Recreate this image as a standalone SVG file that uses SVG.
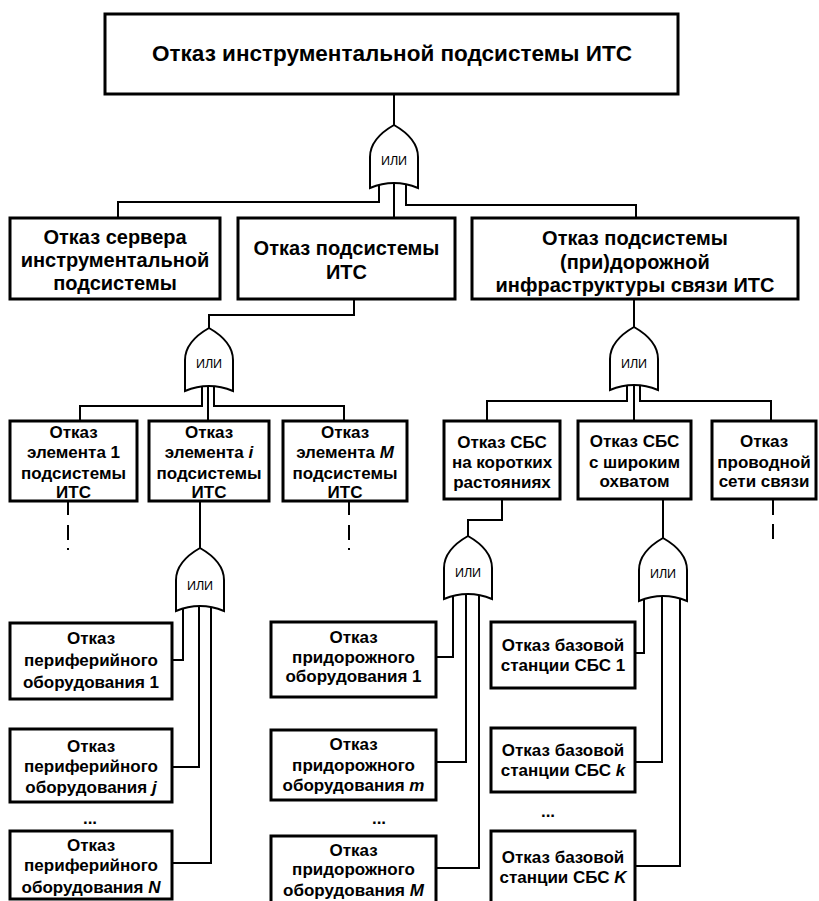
<svg xmlns="http://www.w3.org/2000/svg" width="819" height="901" viewBox="0 0 819 901">
<style>
.box{fill:#fff;stroke:#000;stroke-width:3}
.ln{fill:none;stroke:#000;stroke-width:2}
.dash{fill:none;stroke:#000;stroke-width:2;stroke-dasharray:13 10 15 8 2 100}
.gate{fill:#fff;stroke:#000;stroke-width:2}
text{font-family:"Liberation Sans",Arial,sans-serif;font-weight:bold;text-anchor:middle;fill:#000}
.t22{font-size:22.5px}
.t19{font-size:20px}
.t17{font-size:17px}
.g{font-size:12.5px;font-weight:normal}
.it{font-style:italic}
</style>
<defs>
<path id="orgate" d="M0,0 C-14,8 -24,18 -24,32 L-24,63 Q0,53 24,63 L24,32 C24,18 14,8 0,0 Z"/>
</defs>
<rect width="819" height="901" fill="#fff"/>
<g id="connectors">
<path class="ln" d="M394,94 V126"/>
<path class="ln" d="M379,182 V202 H118 V218"/>
<path class="ln" d="M394,182 V218"/>
<path class="ln" d="M406,182 V205 H636 V218"/>
<path class="ln" d="M354,299 V315 H209 V329"/>
<path class="ln" d="M634,299 V328"/>
<path class="ln" d="M202,385 V406 H80 V421"/>
<path class="ln" d="M208,385 V421"/>
<path class="ln" d="M214,385 V406 H344 V421"/>
<path class="ln" d="M627,384 V401 H487 V422"/>
<path class="ln" d="M634,384 V422"/>
<path class="ln" d="M640,384 V401 H771 V422"/>
<path class="ln" d="M200,501 V549"/>
<path class="ln" d="M183,605 V660 H172"/>
<path class="ln" d="M199,605 V767 H172"/>
<path class="ln" d="M211,605 V863 H172"/>
<path class="ln" d="M502,499 V520 H468 V537"/>
<path class="ln" d="M453,593 V657 H436"/>
<path class="ln" d="M466,593 V762 H436"/>
<path class="ln" d="M479,593 V868 H436"/>
<path class="ln" d="M663,499 V539"/>
<path class="ln" d="M644,595 V653 H635"/>
<path class="ln" d="M662,595 V762 H635"/>
<path class="ln" d="M680,595 V866 H635"/>
<path class="dash" d="M68,502 V560"/>
<path class="dash" d="M349,502 V560"/>
<path class="ln" d="M773,500 V515 M773,524 V539"/>
</g>
<g id="gate1"><use href="#orgate" class="gate" x="394" y="125"/><text class="g" x="394" y="164.5">ИЛИ</text></g>
<g id="gate2"><use href="#orgate" class="gate" x="209" y="328"/><text class="g" x="209" y="367.5">ИЛИ</text></g>
<g id="gate3"><use href="#orgate" class="gate" x="634" y="327"/><text class="g" x="634" y="367.5">ИЛИ</text></g>
<g id="gate4"><use href="#orgate" class="gate" x="200" y="548"/><text class="g" x="200" y="589.5">ИЛИ</text></g>
<g id="gate5"><use href="#orgate" class="gate" x="468" y="536"/><text class="g" x="468" y="576.5">ИЛИ</text></g>
<g id="gate6"><use href="#orgate" class="gate" x="663" y="538"/><text class="g" x="663" y="577.5">ИЛИ</text></g>
<g id="top"><rect class="box" x="105" y="14" width="573" height="80"/><text class="t22" x="392" y="61">Отказ инструментальной подсистемы ИТС</text></g>
<g id="server"><rect class="box" x="10" y="218" width="210" height="81"/><text class="t19" x="115" y="244">Отказ сервера</text><text class="t19" x="115" y="267">инструментальной</text><text class="t19" x="115" y="290">подсистемы</text></g>
<g id="subsys"><rect class="box" x="238" y="218" width="217" height="81"/><text class="t19" x="346.5" y="255">Отказ подсистемы</text><text class="t19" x="346.5" y="279">ИТС</text></g>
<g id="infra"><rect class="box" x="472" y="218" width="326" height="81"/><text class="t19" x="635" y="245">Отказ подсистемы</text><text class="t19" x="635" y="269">(при)дорожной</text><text class="t19" x="635" y="292">инфраструктуры связи ИТС</text></g>
<g id="el1"><rect class="box" x="10" y="421" width="127" height="80"/><text class="t17" x="73.5" y="438">Отказ</text><text class="t17" x="73.5" y="458">элемента 1</text><text class="t17" x="73.5" y="479">подсистемы</text><text class="t17" x="73.5" y="498">ИТС</text></g>
<g id="eli"><rect class="box" x="149" y="421" width="120" height="80"/><text class="t17" x="209" y="438">Отказ</text><text class="t17" x="209" y="458">элемента <tspan class="it">i</tspan></text><text class="t17" x="209" y="479">подсистемы</text><text class="t17" x="209" y="498">ИТС</text></g>
<g id="elM"><rect class="box" x="283" y="421" width="124" height="80"/><text class="t17" x="345" y="438">Отказ</text><text class="t17" x="345" y="458">элемента <tspan class="it">M</tspan></text><text class="t17" x="345" y="479">подсистемы</text><text class="t17" x="345" y="498">ИТС</text></g>
<g id="sbs-short"><rect class="box" x="444" y="421" width="116" height="78"/><text class="t17" x="502" y="448">Отказ СБС</text><text class="t17" x="502" y="468">на коротких</text><text class="t17" x="502" y="488">растояниях</text></g>
<g id="sbs-wide"><rect class="box" x="578" y="421" width="113" height="78"/><text class="t17" x="634.5" y="447">Отказ СБС</text><text class="t17" x="634.5" y="468">с широким</text><text class="t17" x="634.5" y="487">охватом</text></g>
<g id="wired"><rect class="box" x="712" y="421" width="104" height="78"/><text class="t17" x="764" y="447">Отказ</text><text class="t17" x="764" y="468">проводной</text><text class="t17" x="764" y="487">сети связи</text></g>
<g id="per1"><rect class="box" x="10" y="623" width="162" height="76"/><text class="t17" x="91" y="644">Отказ</text><text class="t17" x="91" y="666">периферийного</text><text class="t17" x="91" y="688">оборудования 1</text></g>
<g id="perj"><rect class="box" x="10" y="729" width="162" height="73"/><text class="t17" x="91" y="752">Отказ</text><text class="t17" x="91" y="772">периферийного</text><text class="t17" x="91" y="793">оборудования <tspan class="it">j</tspan></text></g>
<text class="t17" x="90" y="824">...</text>
<g id="perN"><rect class="box" x="10" y="831" width="162" height="68"/><text class="t17" x="91" y="851">Отказ</text><text class="t17" x="91" y="871">периферийного</text><text class="t17" x="91" y="893">оборудования <tspan class="it">N</tspan></text></g>
<g id="road1"><rect class="box" x="271" y="622" width="165" height="75"/><text class="t17" x="353.5" y="643">Отказ</text><text class="t17" x="353.5" y="663">придорожного</text><text class="t17" x="353.5" y="682">оборудования 1</text></g>
<g id="roadm"><rect class="box" x="271" y="730" width="165" height="70"/><text class="t17" x="353.5" y="750">Отказ</text><text class="t17" x="353.5" y="771">придорожного</text><text class="t17" x="353.5" y="791">оборудования <tspan class="it">m</tspan></text></g>
<text class="t17" x="379" y="824">...</text>
<g id="roadM"><rect class="box" x="271" y="836" width="165" height="68"/><text class="t17" x="353.5" y="856">Отказ</text><text class="t17" x="353.5" y="875">придорожного</text><text class="t17" x="353.5" y="896">оборудования <tspan class="it">M</tspan></text></g>
<g id="bs1"><rect class="box" x="491" y="622" width="144" height="66"/><text class="t17" x="563" y="651">Отказ базовой</text><text class="t17" x="563" y="671">станции СБС 1</text></g>
<g id="bsk"><rect class="box" x="491" y="728" width="144" height="64"/><text class="t17" x="563" y="756">Отказ базовой</text><text class="t17" x="563" y="776">станции СБС <tspan class="it">k</tspan></text></g>
<text class="t17" x="548" y="817">...</text>
<g id="bsK"><rect class="box" x="491" y="831" width="144" height="73"/><text class="t17" x="563" y="863">Отказ базовой</text><text class="t17" x="563" y="883">станции СБС <tspan class="it">K</tspan></text></g>
</svg>
